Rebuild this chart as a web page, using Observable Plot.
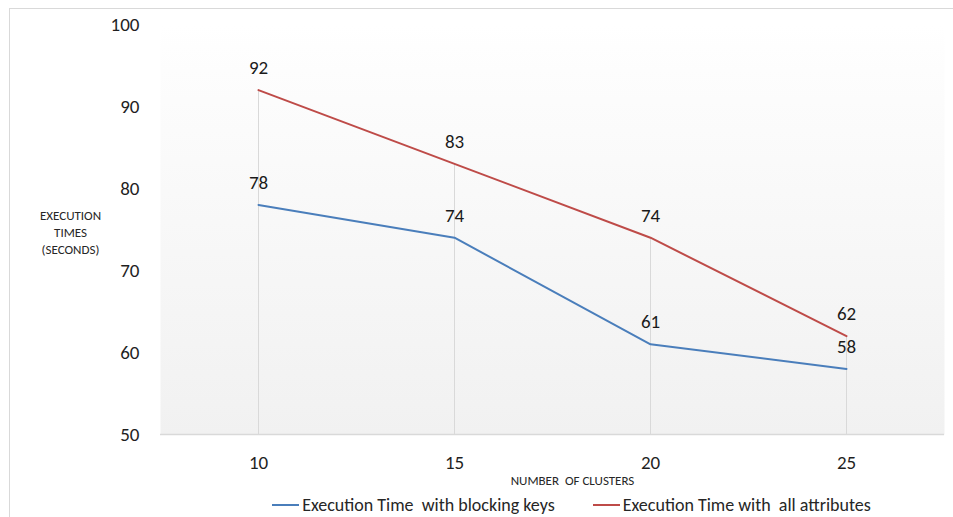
<!DOCTYPE html>
<html>
<head>
<meta charset="utf-8">
<script src="https://cdn.jsdelivr.net/npm/d3@7"></script>
<script src="https://cdn.jsdelivr.net/npm/@observablehq/plot@0.6"></script>
<style>
  html, body { margin: 0; padding: 0; background: #fff; overflow: hidden; width: 953px; height: 517px; }
  #wrap { position: relative; width: 953px; height: 517px; font-family: Carlito, Lato, sans-serif; color: #1f1f1f; }
  #chart svg { display: block; }
  #border { position: absolute; left: 9px; top: 8px; width: 1000px; height: 600px; border: 1.5px solid #d9d9d9; pointer-events: none; }
  #legend { position: absolute; left: 0; top: 495px; width: 953px; display: flex; justify-content: center; gap: 38px; padding-left: 190px; box-sizing: border-box; font-size: 18px; line-height: 20px; white-space: pre; color: #262626; }
  .item { display: flex; align-items: center; }
  .swatch { display: inline-block; width: 27px; height: 0; border-top: 2px solid; margin-right: 3px; }
</style>
</head>
<body>
<div id="wrap">
  <div id="chart"></div>
  <div id="legend"></div>
  <div id="border"></div>
</div>
<script>
// Execution time (seconds) by number of clusters
const clusters = ["10", "15", "20", "25"];
const blockingKeys = [78, 74, 61, 58];
const allAttributes = [92, 83, 74, 62];
const seriesNames = ["Execution Time  with blocking keys", "Execution Time with  all attributes"];
const seriesColors = ["#4a7ebb", "#be4b48"];
const yTicks = [50, 60, 70, 80, 90, 100];

const rows = [
  ...clusters.map((c, i) => ({cluster: c, value: blockingKeys[i], series: seriesNames[0]})),
  ...clusters.map((c, i) => ({cluster: c, value: allAttributes[i], series: seriesNames[1]}))
];
const drops = clusters.map((c, i) => ({cluster: c, top: Math.max(blockingKeys[i], allAttributes[i])}));

const font = "Carlito, Lato, sans-serif";

const gradientDefs = () => {
  const defs = d3.create("svg:defs");
  const g = defs.append("linearGradient").attr("id", "plotBg")
    .attr("x1", 0).attr("y1", 0).attr("x2", 0).attr("y2", 1);
  g.append("stop").attr("offset", "0%").attr("stop-color", "#ffffff");
  g.append("stop").attr("offset", "11%").attr("stop-color", "#fdfdfd");
  g.append("stop").attr("offset", "100%").attr("stop-color", "#f1f1f1");
  return defs.node();
};

const chart = Plot.plot({
  width: 953,
  height: 495,
  marginLeft: 160,
  marginRight: 9,
  marginTop: 24,
  marginBottom: 61,
  style: {fontFamily: font, background: "transparent", color: "#1f1f1f"},
  x: {type: "point", domain: clusters, padding: 0.5, align: 0.5, label: null},
  y: {domain: [50, 100], label: null},
  color: {domain: seriesNames, range: seriesColors},
  marks: [
    gradientDefs,
    Plot.frame({fill: "url(#plotBg)", stroke: "none"}),
    Plot.ruleX(drops, {x: "cluster", y1: 50, y2: "top", stroke: "#d9d9d9", strokeWidth: 1}),
    Plot.ruleY([50], {stroke: "#d9d9d9", strokeWidth: 1.5}),
    Plot.axisY({ticks: yTicks, tickSize: 0, tickPadding: 21, fontSize: 19, label: null}),
    Plot.axisX({tickSize: 0, tickPadding: 21, fontSize: 19, label: null}),
    Plot.line(rows, {x: "cluster", y: "value", z: "series", stroke: "series", strokeWidth: 2}),
    Plot.text(rows, {x: "cluster", y: "value", text: d => String(d.value), dy: -22, fontSize: 19, fill: "#1a1a1a"}),
    Plot.text(["EXECUTION\nTIMES\n(SECONDS)"], {frameAnchor: "left", textAnchor: "middle", dx: -90, dy: 2, fontSize: 13, lineHeight: 1.3, fill: "#262626"}),
    Plot.text(["NUMBER\u00a0\u00a0OF CLUSTERS"], {frameAnchor: "bottom", dx: 20, dy: 50, fontSize: 13, fill: "#262626"})
  ]
});
document.getElementById("chart").appendChild(chart);

// Legend below the plot
const legend = document.getElementById("legend");
seriesNames.forEach((name, i) => {
  const item = document.createElement("div");
  item.className = "item";
  const sw = document.createElement("span");
  sw.className = "swatch";
  sw.style.borderTopColor = seriesColors[i];
  const label = document.createElement("span");
  label.textContent = name;
  item.appendChild(sw);
  item.appendChild(label);
  legend.appendChild(item);
});
</script>
</body>
</html>
